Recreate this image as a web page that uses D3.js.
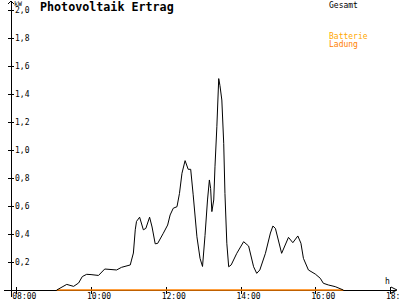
<!DOCTYPE html>
<html>
<head>
<meta charset="utf-8">
<script src="https://cdn.jsdelivr.net/npm/d3@7"></script>
<style>
  html, body { margin: 0; padding: 0; background: #fff; }
  svg { display: block; font-family: "DejaVu Sans Mono", monospace; }
</style>
</head>
<body>
<script>
// Gesamt (kW) over the day
const gesamtTimes = [
  "09:05", "09:21", "09:32", "09:40", "09:46", "09:53", "10:00", "10:12",
  "10:22", "10:41", "10:49", "11:03", "11:05", "11:08", "11:11", "11:13",
  "11:18", "11:24", "11:28", "11:34", "11:38", "11:43", "11:47", "11:56",
  "12:03", "12:07", "12:12", "12:18", "12:22", "12:26", "12:31", "12:36",
  "12:40", "12:44", "12:50", "12:55", "12:59", "13:03", "13:07", "13:10",
  "13:12", "13:14", "13:17", "13:19", "13:22", "13:25", "13:27", "13:30",
  "13:33", "13:35", "13:38", "13:41", "13:45", "13:54", "14:05", "14:13",
  "14:21", "14:26", "14:31", "14:40", "14:48", "14:52", "14:56", "15:06",
  "15:17", "15:24", "15:32", "15:37", "15:41", "15:49", "16:00", "16:08",
  "16:13", "16:21", "16:32", "16:45"
];
const gesamtValues = [
  0.00, 0.04, 0.026, 0.05, 0.096, 0.112, 0.11, 0.104,
  0.15, 0.143, 0.162, 0.179, 0.214, 0.264, 0.43, 0.49,
  0.52, 0.43, 0.44, 0.52, 0.45, 0.33, 0.333, 0.405,
  0.464, 0.536, 0.584, 0.595, 0.69, 0.834, 0.924, 0.862,
  0.862, 0.68, 0.38, 0.226, 0.168, 0.39, 0.643, 0.786,
  0.726, 0.56, 0.643, 0.88, 1.166, 1.51, 1.46, 1.357,
  1.048, 0.69, 0.334, 0.166, 0.179, 0.262, 0.345, 0.314,
  0.166, 0.119, 0.143, 0.262, 0.407, 0.457, 0.44, 0.262,
  0.376, 0.338, 0.386, 0.334, 0.226, 0.143, 0.114, 0.084,
  0.048, 0.036, 0.024, 0.00
];
// Batterie Ladung (kW)
const ladungTimes = ["09:05", "16:45"];
const ladungValues = [0, 0];

const xTicks = ["08:00", "10:00", "12:00", "14:00", "16:00", "18:00"];
const yTicks = [0.2, 0.4, 0.6, 0.8, 1.0, 1.2, 1.4, 1.6, 1.8, 2.0];

const title = "Photovoltaik Ertrag";
const seriesNames = ["Gesamt", "Batterie", "Ladung"];

const width = 400, height = 300;
const axisX = 11, axisY = 290;

const parseT = (s) => {
  const [h, m] = s.split(":").map(Number);
  return h + m / 60;
};

const x = d3.scaleLinear().domain([8, 18]).range([16.3, 390]);
const y = d3.scaleLinear().domain([0, 2]).range([axisY, 10]);

const svg = d3
  .select("body")
  .append("svg")
  .attr("width", width)
  .attr("height", height);

// title
svg
  .append("text")
  .attr("x", 40)
  .attr("y", 11)
  .style("font-size", "11.7px")
  .style("font-weight", "bold")
  .attr("fill", "#000")
  .text(title);

// legend
svg
  .append("text")
  .attr("x", 329)
  .attr("y", 8)
  .style("font-size", "8px")
  .attr("fill", "#000")
  .text(seriesNames[0]);
svg
  .append("text")
  .attr("x", 329)
  .attr("y", 39)
  .style("font-size", "8px")
  .attr("fill", "#ffa800")
  .text(seriesNames[1]);
svg
  .append("text")
  .attr("x", 329)
  .attr("y", 47)
  .style("font-size", "8px")
  .attr("fill", "#ff8000")
  .text(seriesNames[2]);

// x axis
const xAxis = d3
  .axisBottom(x)
  .tickValues(xTicks.map(parseT))
  .tickFormat((d, i) => xTicks[i])
  .tickSizeInner(4)
  .tickSizeOuter(0);
const gx = svg
  .append("g")
  .attr("transform", `translate(0,${axisY})`)
  .call(xAxis);
gx.select(".domain").remove();
gx.selectAll(".tick line")
  .attr("y1", -3)
  .attr("y2", 4)
  .attr("stroke", "#000")
  .attr("shape-rendering", "crispEdges");
gx.selectAll(".tick text")
  .attr("y", 9)
  .attr("dy", 0)
  .attr("dx", 7.5)
  .attr("fill", "#000")
  .style("font-size", "8px")
  .style("font-family", "DejaVu Sans Mono, monospace");
svg
  .append("line")
  .attr("x1", 4)
  .attr("x2", 396)
  .attr("y1", axisY)
  .attr("y2", axisY)
  .attr("stroke", "#000")
  .attr("shape-rendering", "crispEdges");
svg
  .append("path")
  .attr("d", `M391,${axisY - 3}L397,${axisY}L391,${axisY + 3}`)
  .attr("fill", "none")
  .attr("stroke", "#000");
svg
  .append("text")
  .attr("x", 385)
  .attr("y", 284)
  .style("font-size", "8px")
  .attr("fill", "#000")
  .text("h");

// y axis
const yAxis = d3
  .axisRight(y)
  .tickValues(yTicks)
  .tickFormat((d) => d3.format(".1f")(d).replace(".", ","))
  .tickSizeInner(3)
  .tickSizeOuter(0);
const gy = svg
  .append("g")
  .attr("transform", `translate(${axisX},0)`)
  .call(yAxis);
gy.select(".domain").remove();
gy.selectAll(".tick line")
  .attr("x1", -3)
  .attr("x2", 3)
  .attr("stroke", "#000")
  .attr("shape-rendering", "crispEdges");
gy.selectAll(".tick text")
  .attr("x", 4)
  .attr("fill", "#000")
  .style("font-size", "8px")
  .style("font-family", "DejaVu Sans Mono, monospace");
svg
  .append("line")
  .attr("x1", axisX)
  .attr("x2", axisX)
  .attr("y1", 1)
  .attr("y2", 297)
  .attr("stroke", "#000")
  .attr("shape-rendering", "crispEdges");
svg
  .append("path")
  .attr("d", `M${axisX - 3},4L${axisX},1L${axisX + 3},4`)
  .attr("fill", "none")
  .attr("stroke", "#000");
svg
  .append("text")
  .attr("x", 14)
  .attr("y", 6)
  .style("font-size", "6.5px")
  .attr("fill", "#000")
  .text("kW");

// series
const line = d3
  .line()
  .x((d) => x(d[0]))
  .y((d) => y(d[1]));

svg
  .append("path")
  .datum(ladungTimes.map((t, i) => [parseT(t), ladungValues[i]]))
  .attr("d", line)
  .attr("fill", "none")
  .attr("stroke", "#ff8000")
  .attr("stroke-width", 1.5);

svg
  .append("path")
  .datum(gesamtTimes.map((t, i) => [parseT(t), gesamtValues[i]]))
  .attr("d", line)
  .attr("fill", "none")
  .attr("stroke", "#000")
  .attr("stroke-width", 1);
</script>
</body>
</html>
